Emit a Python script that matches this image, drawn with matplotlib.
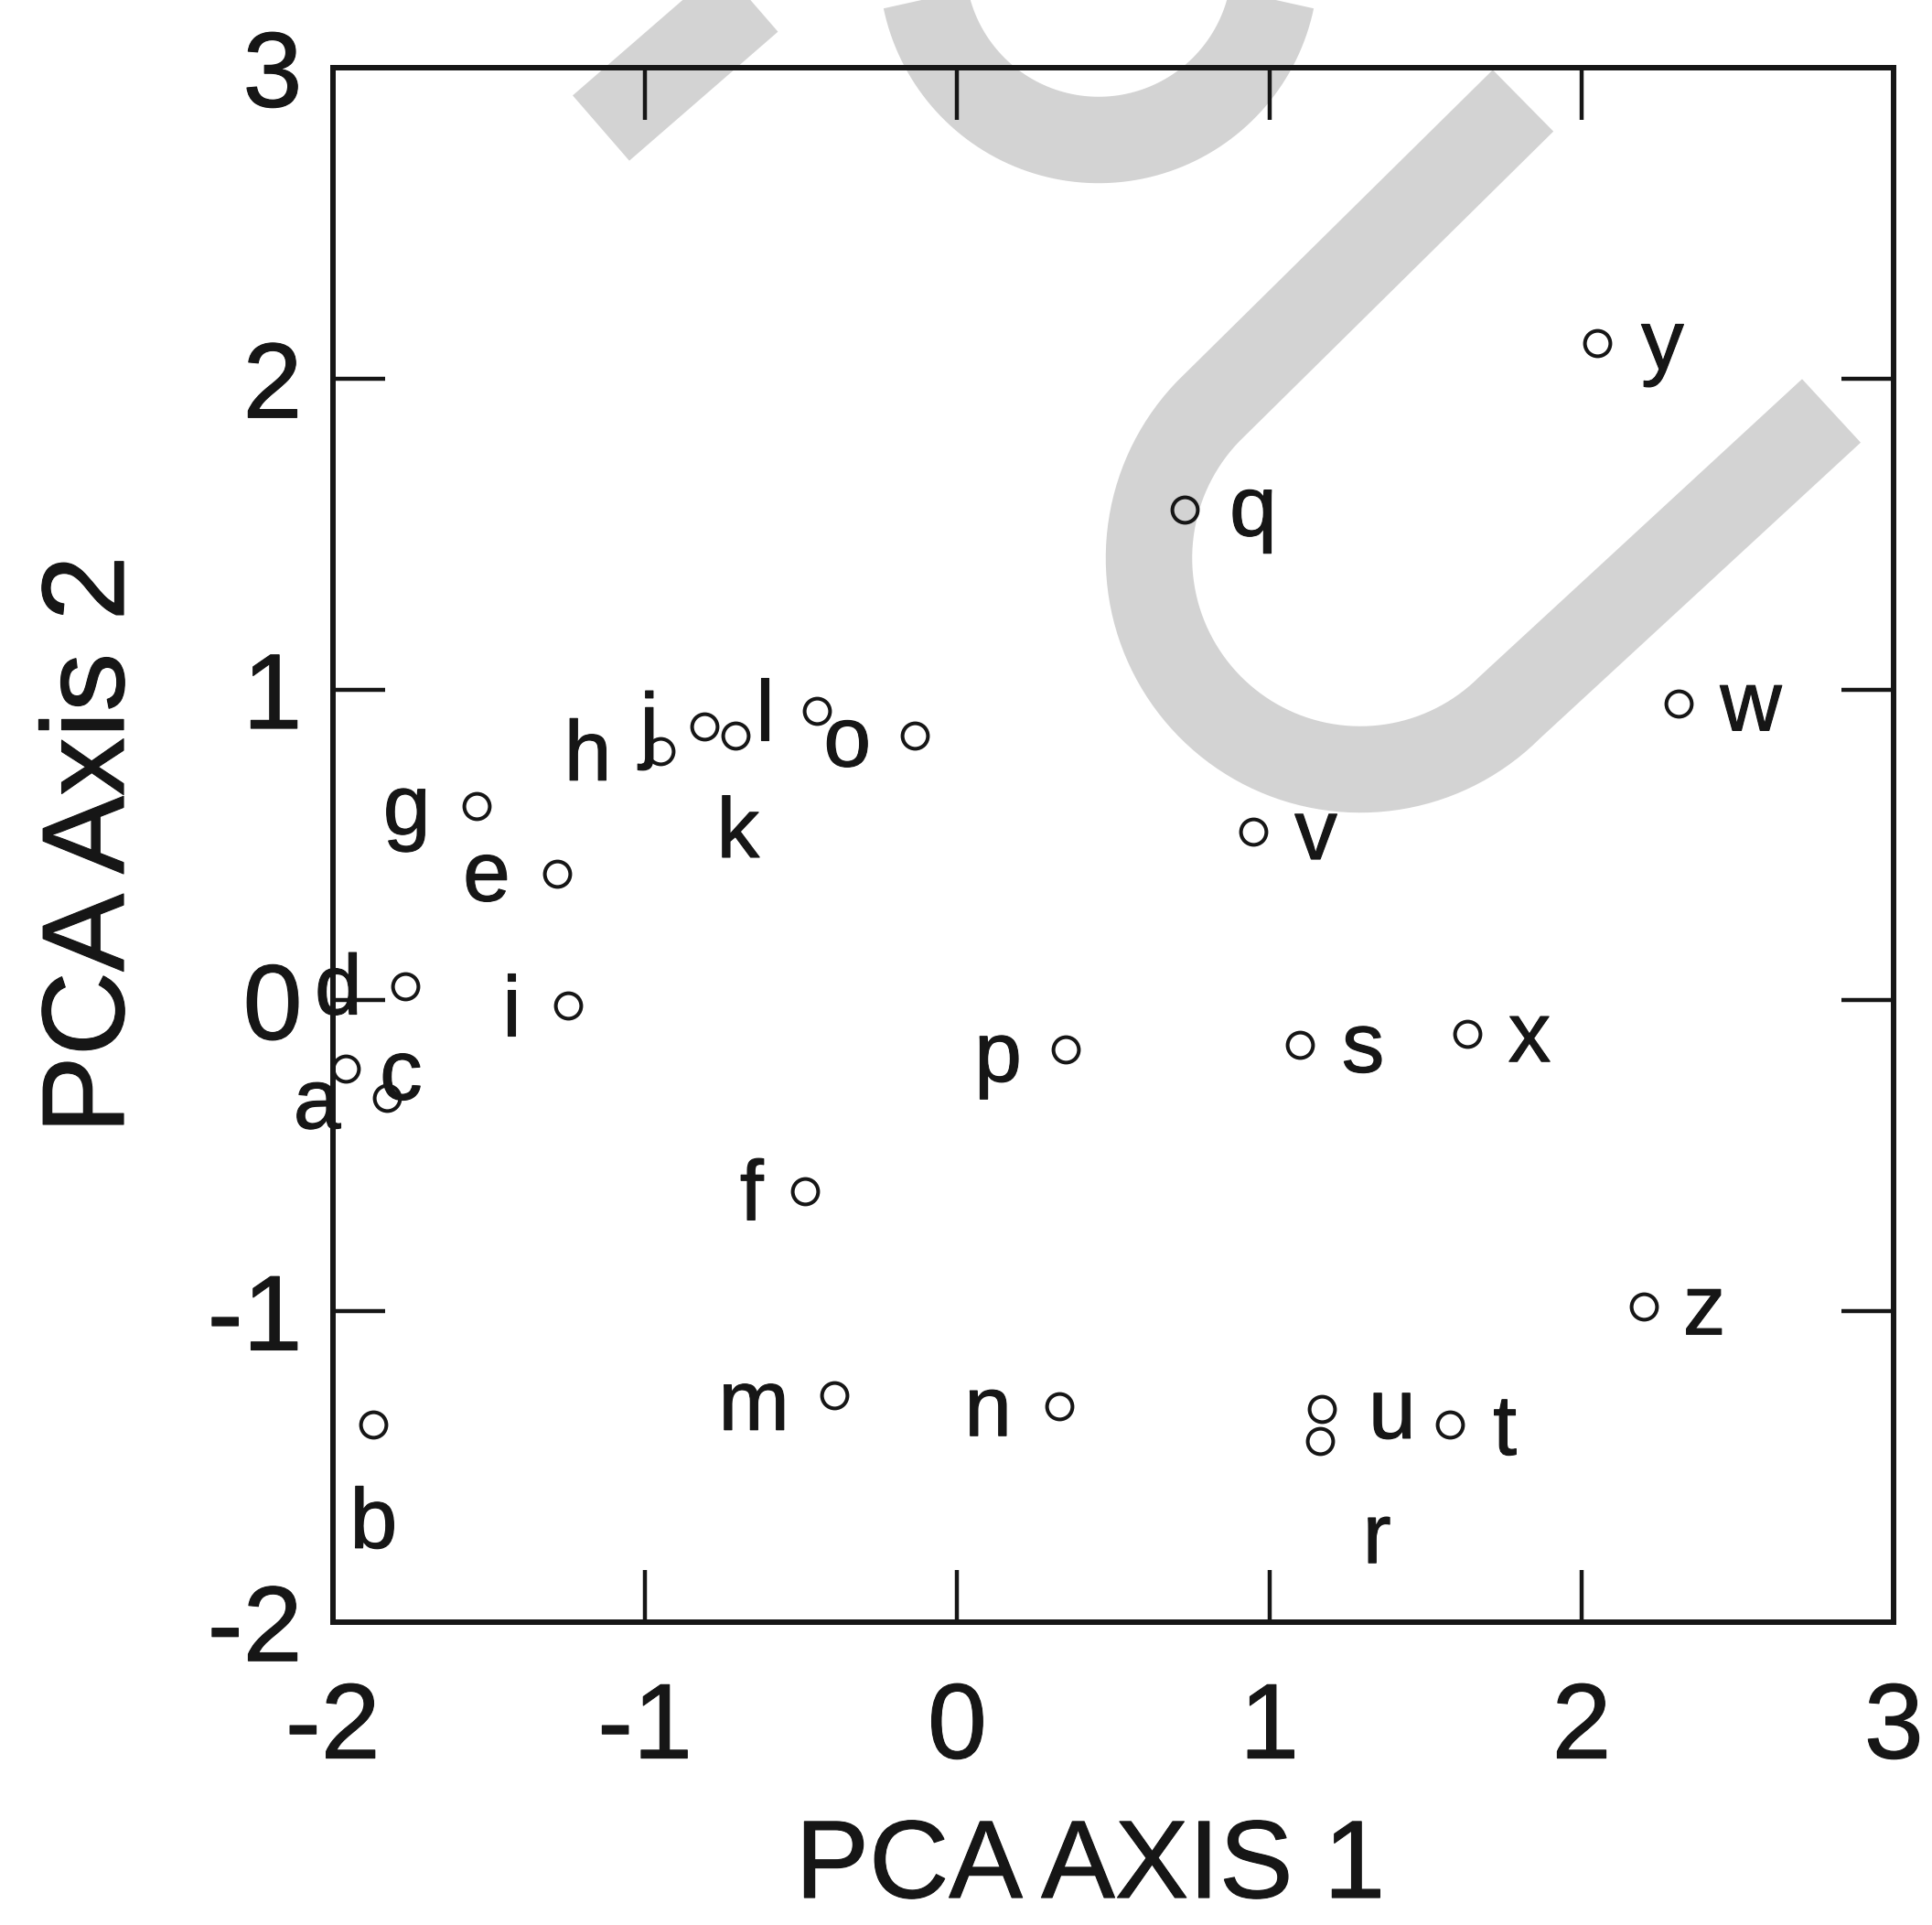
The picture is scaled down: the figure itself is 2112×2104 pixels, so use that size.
"""PCA ordination of 26 samples (a-z) on the first two axes, with the grey scan watermark."""

import numpy as np
import matplotlib

matplotlib.use("Agg")
import matplotlib.pyplot as plt
import matplotlib.patheffects as pe

W, H, DPI = 2112, 2104, 100
INK = "#161616"
WATERMARK = "#d3d3d3"

# sample names, their scores and where each letter sits
names = list("abcdefghijklmnopqrstuvwxyz")
pc1 = [-1.957, -1.869, -1.825, -1.767, -1.282, -0.487, -1.538, -0.95, -1.246, -0.81,
       -0.71, -0.45, -0.394, 0.327, -0.135, 0.348, 0.729, 1.162, 1.098, 1.578,
       1.168, 0.948, 2.311, 1.633, 2.050, 2.200]
pc2 = [-0.221, -1.366, -0.314, 0.044, 0.407, -0.614, 0.625, 0.80, -0.017, 0.88,
       0.85, 0.93, -1.271, -1.306, 0.85, -0.157, 1.580, -1.418, -0.143, -1.364,
       -1.315, 0.542, 0.955, -0.108, 2.113, -0.985]
label_x = [-2.05, -1.869, -1.781, -1.982, -1.507, -0.658, -1.763, -1.183, -1.428, -0.986,
           -0.702, -0.616, -0.651, 0.099, -0.352, 0.131, 0.948, 1.344, 1.300, 1.754,
           1.393, 1.149, 2.542, 1.833, 2.259, 2.393]
label_y = [-0.412, -1.762, -0.319, -0.045, 0.320, -0.707, 0.534, 0.708, -0.113, 0.797,
           0.460, 0.837, -1.382, -1.401, 0.753, -0.261, 1.495, -1.810, -0.231, -1.462,
           -1.409, 0.454, 0.868, -0.197, 2.03, -1.075]

ticks = [-2, -1, 0, 1, 2, 3]


def _watermark(fig):
    """Grey strokes left over from the scan, drawn in figure pixels behind the plot."""
    wm = fig.add_axes([0, 0, 1, 1], zorder=-1)
    wm.set_xlim(0, W)
    wm.set_ylim(H, 0)
    wm.axis("off")
    kw = dict(color=WATERMARK, lw=68, solid_capstyle="butt", solid_joinstyle="round")

    # diagonal band at the top left
    wm.plot([657, 884], [140, -57], **kw)

    # arc hanging from the top edge
    th = np.linspace(-0.3, np.pi + 0.3, 120)
    wm.plot(1201 + 193 * np.cos(th), -40 + 193 * np.sin(th), **kw)

    # the big tilted U
    th = np.linspace(np.radians(225), np.radians(45), 160)
    ux = np.concatenate([[1665], 1487 + 231 * np.cos(th), [2002]])
    uy = np.concatenate([[110], 610 + 231 * np.sin(th), [449]])
    wm.plot(ux, uy, **kw)


def main() -> None:
    plt.rcParams["font.family"] = ["Liberation Sans", "DejaVu Sans"]
    # scanned print: glyph strokes a touch heavier than the plain font
    ink_fx = [pe.withStroke(linewidth=0.8, foreground=INK)]

    fig = plt.figure(figsize=(W / DPI, H / DPI), dpi=DPI)
    _watermark(fig)

    ax = fig.add_axes([363.7 / W, 1 - 1772.7 / H, 1706.6 / W, 1698.6 / H])
    ax.set_facecolor("none")

    ax.plot(pc1, pc2, "o", ms=20, mfc="none", mec=INK, mew=2.9, clip_on=False)
    for name, lx, ly in zip(names, label_x, label_y):
        ax.text(lx, ly, name, fontsize=67, color=INK, ha="center", va="baseline",
                path_effects=ink_fx)

    ax.set_xlim(-2, 3)
    ax.set_ylim(-2, 3)
    ax.set_xticks(ticks)
    ax.set_yticks(ticks)
    ax.set_xticklabels([str(t) for t in ticks])
    ax.set_yticklabels([str(t) for t in ticks])
    ax.tick_params(direction="in", length=41, width=3.2, color=INK, labelcolor=INK,
                   labelsize=84, top=True, right=True)
    ax.tick_params(axis="x", pad=46)
    ax.tick_params(axis="y", pad=24)
    for lab in ax.get_xticklabels() + ax.get_yticklabels():
        lab.set_path_effects(ink_fx)
    for sp in ax.spines.values():
        sp.set_linewidth(4.3)
        sp.set_color(INK)

    ax.set_xlabel("PCA AXIS 1", fontsize=87, color=INK, va="baseline", path_effects=ink_fx)
    ax.xaxis.set_label_coords(0.4854, -0.1774)
    ax.set_ylabel("PCA Axis 2", fontsize=92, color=INK, va="baseline", path_effects=ink_fx)
    ax.yaxis.set_label_coords(-0.134, 0.5)

    fig.savefig("out.png", dpi=DPI)
    plt.close(fig)


if __name__ == "__main__":
    main()
